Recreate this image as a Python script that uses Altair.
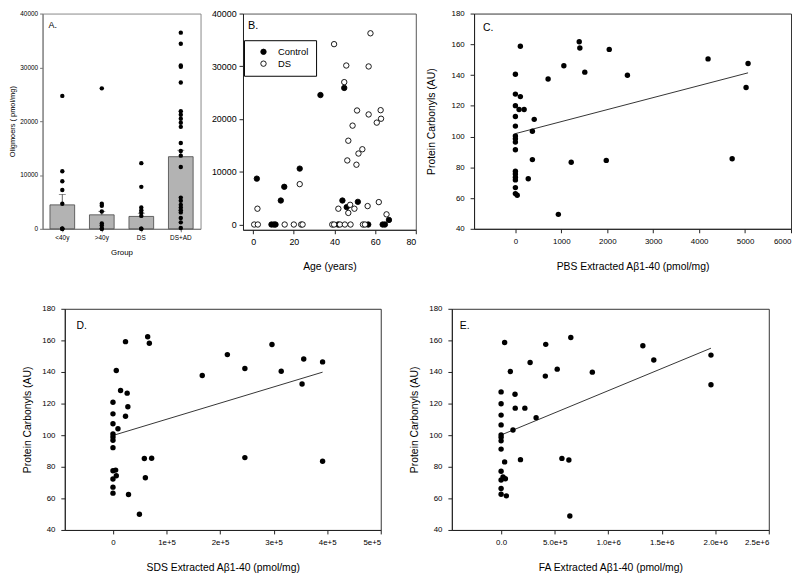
import altair as alt
import pandas as pd

FONT = "Liberation Sans"

# ---------------- Panel A: oligomers by group ----------------
groups = ["<40y", ">40y", "DS", "DS+AD"]
group_mean = [4450, 2600, 2300, 13400]
group_err = [6400, 3250, 2900, 14600]
a_lt40 = [24700, 10700, 8850, 7200, 4650, 0, 0, 0]
a_gt40 = [26100, 4650, 4280, 3230, 1000, 600, 0, 0]
a_ds = [12200, 7800, 3950, 3450, 3000, 2400, 0, 0]
a_dsad = [36450, 34400, 30350, 30100, 27200, 21850, 21200, 20450, 19700, 18950,
          15950, 14450, 13600, 11500, 5800, 5200, 4450, 3950, 3450, 3050, 2000, 1200, 150]

# ---------------- Panel B: oligomers vs age ----------------
ctrl_age = [1.8, 9.0, 10.2, 11.0, 13.6, 15.3, 22.9, 33.1, 41.8, 43.9, 44.8, 46.0,
            51.5, 56.6, 63.7, 64.8, 66.8]
ctrl_val = [8700, 0, 0, 0, 4550, 7150, 10600, 24550, 0, 4550, 25900, 3300,
            4300, 0, 0, 0, 870]
ds_age = [2.1, 22.9, 39.8, 44.8, 45.8, 56.8, 57.7, 51.1, 56.8, 62.7, 62.9, 60.8,
          48.9, 46.8, 53.7, 51.8, 46.3, 50.8, 41.9, 47.7, 46.8, 49.8, 56.3, 61.8, 65.6,
          0.5, 2.3, 15.5, 20.0, 23.6, 24.3, 38.9, 39.8, 42.7, 45.1, 47.9, 54.0, 55.0]
ds_val = [3000, 7660, 34200, 27000, 30150, 29970, 36260, 21620, 20870, 21680, 20060, 19320,
          18750, 15890, 14270, 13460, 12150, 11340, 3000, 3740, 2200, 3000, 3500, 4250, 1930,
          0, 0, 0, 0, 0, 0, 0, 0, 0, 0, 0, 0, 0]

# ---------------- Panel C: PBS extracted ----------------
c_x = [0, 0, 0, 0, 0, 0, 0, 0, 0, 0, 0, 0, 0, 0, 0, 40,
       108, 80, 190, 410, 370, 370, 280, 108, 935, 1215, 712, 1055, 1390, 1403,
       1978, 4719, 2043, 1511, 2439, 4194, 5065, 5022]
c_y = [140.5, 127.6, 120.1, 113.0, 106.8, 100.4, 98.5, 96.4, 91.4, 77.5, 75.6, 73.5,
       71.8, 66.8, 62.9, 61.8,
       126.0, 117.6, 117.6, 111.2, 103.5, 85.0, 72.6, 158.7, 49.4, 83.3, 137.4, 146.1,
       161.7, 157.6, 84.5, 85.6, 156.7, 141.9, 139.9, 150.5, 147.5, 131.9]

# ---------------- Panel D: SDS extracted ----------------
d_x = [0, 0, 0, 0, 0, 0, 0, 0, 5000, 6200, 0, 0, 0,
       6200, 14200, 26500, 27800, 23400, 9300, 29000, 23400, 64800, 67900, 58600, 72200,
       60500, 49400, 166700, 213600, 246300, 246300, 296900, 314200, 353100, 356200,
       391400, 391400]
d_y = [120.8, 113.5, 107.2, 100.8, 98.9, 96.8, 92.1, 77.5, 77.9, 74.3, 72.3, 67.1, 63.3,
       140.9, 128.3, 126.6, 118.0, 112.0, 104.1, 62.5, 159.2, 162.3, 158.2, 85.2, 85.4,
       73.1, 50.0, 137.8, 151.0, 142.2, 85.8, 157.4, 140.5, 132.4, 148.2, 146.4, 83.5]

# ---------------- Panel E: FA extracted ----------------
e_x = [0, 0, 0, 0, 0, 0, 0, 0, 0, 0, 0, 0,
       18000, 40000, 49000, 33000, 33000, 86000, 130000, 132000, 222000, 327000, 111000,
       181000, 271000, 417000, 413000, 524000, 568000, 633000, 642000, 651000, 852000,
       1324000, 1426000, 1960000, 1960000]
e_y = [127.4, 119.9, 112.7, 106.5, 100.2, 98.7, 96.4, 91.2, 77.2, 71.6, 66.3, 62.6,
       73.5, 72.4, 61.6, 83.1, 158.7, 140.3, 125.9, 117.1, 117.1, 111.1, 103.3,
       84.5, 146.0, 157.5, 137.4, 141.8, 85.3, 84.3, 48.8, 161.8, 139.9,
       156.6, 147.6, 150.7, 131.9]

carb_ticks = [40, 60, 80, 100, 120, 140, 160, 180]
panel_letters = ["A.", "B.", "C.", "D.", "E."]


def letter(txt, x, y, size):
    return alt.Chart(pd.DataFrame({"t": [txt]})).mark_text(
        align="left", baseline="alphabetic", font=FONT, fontSize=size, color="black"
    ).encode(text="t:N", x=alt.value(x), y=alt.value(y))


# ---- A ----
bar_df = pd.DataFrame({"group": groups, "mean": group_mean, "err": group_err})
pts_a = pd.DataFrame({
    "group": ["<40y"] * len(a_lt40) + [">40y"] * len(a_gt40) + ["DS"] * len(a_ds)
    + ["DS+AD"] * len(a_dsad),
    "value": a_lt40 + a_gt40 + a_ds + a_dsad,
})
xa = alt.X("group:N", sort=groups,
           scale=alt.Scale(paddingInner=0.375, paddingOuter=0.1875),
           axis=alt.Axis(title="Group", labelAngle=0, labelFontSize=6.5, titleFontSize=8,
                         tickSize=3, labelPadding=3, titlePadding=8,
                         domainColor="#777", tickColor="#777"))
ya_scale = alt.Scale(domain=[0, 40000], nice=False)
ya_axis = alt.Axis(title="Oligmoers ( pmol/mg)", values=[0, 10000, 20000, 30000, 40000],
                   format="d", labelFontSize=6.5, titleFontSize=7.5, tickSize=3,
                   labelPadding=2, titlePadding=3, domainColor="#777", tickColor="#777")
bars = alt.Chart(bar_df).mark_bar(color="#b3b3b3", stroke="#444", strokeWidth=0.8).encode(
    x=xa, y=alt.Y("mean:Q", scale=ya_scale, axis=ya_axis))
err = alt.Chart(bar_df).mark_rule(color="#333", strokeWidth=0.8).encode(
    x=alt.X("group:N", sort=groups), y="mean:Q", y2="err:Q")
cap = alt.Chart(bar_df).mark_tick(color="#333", thickness=0.8, size=7).encode(
    x=alt.X("group:N", sort=groups), y="err:Q")
dots_a = alt.Chart(pts_a).mark_circle(size=20, color="black", opacity=1).encode(
    x=alt.X("group:N", sort=groups), y="value:Q")
chartA = alt.layer(bars, err, cap, dots_a, letter(panel_letters[0], 6, 15, 9)).properties(
    width=160, height=218, view=alt.ViewBackground(stroke="#888"))

# ---- B ----
b_df = pd.DataFrame({
    "age": ctrl_age + ds_age,
    "val": ctrl_val + ds_val,
    "grp": ["Control"] * len(ctrl_age) + ["DS"] * len(ds_age),
})
dots_b = alt.Chart(b_df).mark_point(shape="circle", size=30, stroke="black", strokeWidth=0.9,
                                    opacity=1).encode(
    x=alt.X("age:Q", scale=alt.Scale(domain=[-5, 80], nice=False, zero=False),
            axis=alt.Axis(title="Age (years)", values=[0, 20, 40, 60, 80], labelFontSize=9,
                          titleFontSize=10.5, tickSize=4, labelPadding=4, titlePadding=15)),
    y=alt.Y("val:Q", scale=alt.Scale(domain=[-1000, 40000], nice=False, zero=False),
            axis=alt.Axis(title=None, values=[0, 10000, 20000, 30000, 40000], format="d",
                          labelFontSize=9, tickSize=4, labelPadding=3)),
    fill=alt.Fill("grp:N", scale=alt.Scale(domain=["Control", "DS"], range=["black", "white"]),
                  legend=alt.Legend(title=None, orient="none", legendX=204, legendY=27,
                                    strokeColor="black", padding=7, symbolOffset=8,
                                    labelOffset=10, labelFontSize=9.5, labelFont=FONT,
                                    symbolSize=30, symbolStrokeColor="black",
                                    symbolStrokeWidth=0.9, symbolType="circle",
                                    rowPadding=1, labelLimit=200)),
)
chartB = alt.layer(dots_b, letter(panel_letters[1], 5, 16, 11)).properties(
    width=175, height=219, view=alt.ViewBackground(stroke="#555"))


def scatter(xs, ys, xtitle, xdomain, xvalues, label_expr, let, lx, ly, w, h, tpad, ytpad):
    df = pd.DataFrame({"x": xs, "y": ys})
    xenc = alt.X("x:Q", scale=alt.Scale(domain=xdomain, nice=False, zero=False),
                 axis=alt.Axis(title=xtitle, values=xvalues, labelExpr=label_expr,
                               labelFontSize=8, titleFontSize=10.5, tickSize=4,
                               labelPadding=5, titlePadding=tpad))
    yenc = alt.Y("y:Q", scale=alt.Scale(domain=[40, 180], nice=False, zero=False),
                 axis=alt.Axis(title="Protein Carbonyls (AU)", values=carb_ticks,
                               labelFontSize=8, titleFontSize=10.5, tickSize=4,
                               labelPadding=6, titlePadding=ytpad))
    pts = alt.Chart(df).mark_circle(size=30, color="black", opacity=1).encode(x=xenc, y=yenc)
    line = alt.Chart(df).transform_regression("x", "y").mark_line(
        color="black", strokeWidth=0.8).encode(x=xenc, y=yenc)
    return alt.layer(pts, line, letter(let, lx, ly, 10.5)).properties(
        width=w, height=h, view=alt.ViewBackground(stroke="#333"))


chartC = scatter(c_x, c_y, "PBS Extracted Aβ1-40 (pmol/mg)", [-900, 6000],
                 [0, 1000, 2000, 3000, 4000, 5000, 6000], "format(datum.value, 'd')",
                 panel_letters[2], 9, 18, 321, 218, 16, 15)
chartD = scatter(d_x, d_y, "SDS Extracted Aβ1-40 (pmol/mg)", [-90000, 500000],
                 [0, 100000, 200000, 300000, 400000, 500000],
                 "datum.value == 0 ? '0' : format(datum.value, '.0e')",
                 panel_letters[3], 12, 20, 320, 224, 16, 9)
chartE = scatter(e_x, e_y, "FA Extracted Aβ1-40 (pmol/mg)", [-460000, 2500000],
                 [0, 500000, 1000000, 1500000, 2000000, 2500000],
                 "datum.value == 0 ? '0.0' : format(datum.value, '.1e')",
                 panel_letters[4], 8, 20, 321, 224, 16, 9)

top = alt.hconcat(chartA, chartB, chartC, spacing=9)
bottom = alt.hconcat(chartD, chartE, spacing=28)
chart = alt.vconcat(top, bottom, spacing=32, center=True).properties(
    padding={"left": 0, "top": -3, "right": 0, "bottom": 0}
).configure(font=FONT).configure_axis(
    grid=False, labelFont=FONT, titleFont=FONT, labelColor="black", titleColor="black",
    titleFontWeight="normal", domainColor="#222", tickColor="#222"
).configure_view(strokeWidth=1)

chart.save("out.html", embed_options={"renderer": "svg", "actions": False})
